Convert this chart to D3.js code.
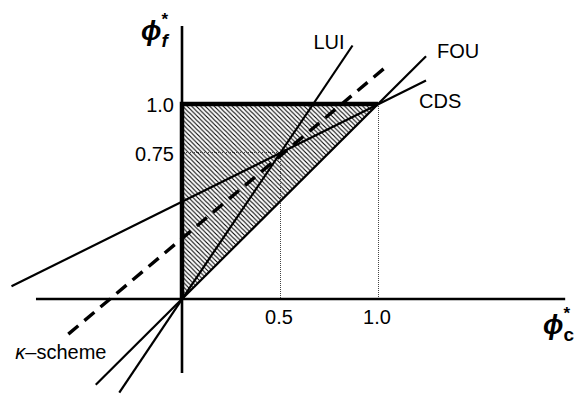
<!DOCTYPE html>
<html>
<head>
<meta charset="utf-8">
<script src="https://cdn.jsdelivr.net/npm/d3@7"></script>
<style>
body{margin:0;background:#fff;}
svg{display:block;}
text{font-family:"Liberation Sans",Arial,sans-serif;fill:#000;}
</style>
</head>
<body>
<svg width="576" height="395"></svg>
<script>
// tick values and labels
var xTicks=[0.5,1.0];
var xTickLabels=["0.5","1.0"];
var yTicks=[0.75,1.0];
var yTickLabels=["0.75","1.0"];

// scheme lines, start and end point in normalized variables
var schemes=["CDS","FOU","LUI","κ–scheme"];
var schemeStart=[[-0.87,0.065],[-0.44,-0.44],[-0.32,-0.48],[-0.58,-0.18]];
var schemeEnd=[[1.245,1.12],[1.245,1.245],[0.87,1.3],[1.04,1.19]];

// shaded (TVD / convection boundedness) region
var region=[[0,0],[0,1],[1,1]];

var svg=d3.select('svg');
var x=d3.scaleLinear().domain([0,1]).range([182,378]);
var y=d3.scaleLinear().domain([0,1]).range([299,104]);

var defs=svg.append('defs');
var s=4.5;
var pat=defs.append('pattern')
    .attr('id','hatch')
    .attr('patternUnits','userSpaceOnUse')
    .attr('width',s)
    .attr('height',s);
pat.append('path')
    .attr('d','M0,0 L'+s+','+s+' M-1,'+(s-1)+' L1,'+(s+1)+' M'+(s-1)+',-1 L'+(s+1)+',1')
    .style('stroke','#000')
    .style('stroke-width',1.1);

var line=d3.line().x(function(d){return x(d[0]);}).y(function(d){return y(d[1]);});

svg.append('path')
    .attr('d',line(region)+'Z')
    .style('fill','url(#hatch)');

// dotted guides
var guides=[[[0,0.75],[0.5,0.75]],[[0.5,0.75],[0.5,0]],[[1,1],[1,0]]];
guides.forEach(function(g){
    svg.append('path')
    .attr('d',line(g))
    .attr('shape-rendering','crispEdges')
    .style('stroke','#444')
    .style('stroke-width',1)
    .style('stroke-dasharray','1,1')
    .style('fill','none');
});

// axes
svg.append('line')
    .attr('x1',x(-0.745)).attr('x2',x(1.955))
    .attr('y1',y(0)).attr('y2',y(0))
    .style('stroke','#000').style('stroke-width',2.6);
svg.append('line')
    .attr('x1',x(0)).attr('x2',x(0))
    .attr('y1',y(-0.38)).attr('y2',y(1.4))
    .style('stroke','#000').style('stroke-width',2.6);

// thick edges of the region
svg.append('path')
    .attr('d',line([[0,0],[0,1],[1,1]]))
    .style('stroke','#000').style('stroke-width',4.5)
    .style('fill','none');

// scheme lines
for(i=0;i<schemes.length;i++){
    svg.append('path')
    .attr('d',line([schemeStart[i],schemeEnd[i]]))
    .style('stroke','#000')
    .style('stroke-width',i==3?3.4:2.2)
    .style('stroke-dasharray',i==3?'13,8':null)
    .style('fill','none');
}

// scheme labels
var labelDx=[-7,11,-8,-53];
var labelDy=[27,2,3,25];
var labelAnchor=['start','start','end','start'];
for(i=0;i<schemes.length;i++){
    var p=i==3?schemeStart[i]:schemeEnd[i];
    var t=svg.append('text')
    .attr('x',x(p[0])+labelDx[i])
    .attr('y',y(p[1])+labelDy[i])
    .attr('text-anchor',labelAnchor[i])
    .style('font-size','20px');
    if(i==3){
        t.append('tspan').style('font-style','italic').text('κ');
        t.append('tspan').text('–scheme');
    }
    else{
        t.text(schemes[i]);
    }
}

// tick labels
for(i=0;i<xTicks.length;i++){
    svg.append('text')
    .attr('x',x(xTicks[i])-1)
    .attr('y',y(0)+25)
    .attr('text-anchor','middle')
    .style('font-size','20px')
    .text(xTickLabels[i]);
}
for(i=0;i<yTicks.length;i++){
    svg.append('text')
    .attr('x',x(0)-8)
    .attr('y',y(yTicks[i])+8)
    .attr('text-anchor','end')
    .style('font-size','20px')
    .text(yTickLabels[i]);
}

// axis titles: phi, star and subscript as separate texts
function axisTitle(px,py,sub){
    var phi=svg.append('text')
    .attr('x',px).attr('y',py)
    .style('font-weight','bold').style('font-style','italic')
    .style('font-size','27px').text('ϕ');
    var r=phi.node().getBBox();
    svg.append('text')
    .attr('x',r.x+r.width).attr('y',py-15)
    .style('font-weight','bold').style('font-size','17px').text('*');
    svg.append('text')
    .attr('x',r.x+r.width).attr('y',py+7)
    .style('font-weight','bold')
    .style('font-style',sub=='f'?'italic':'normal')
    .style('font-size','19px').text(sub);
}
axisTitle(141,40,'f');
axisTitle(543,334,'c');
</script>
</body>
</html>
